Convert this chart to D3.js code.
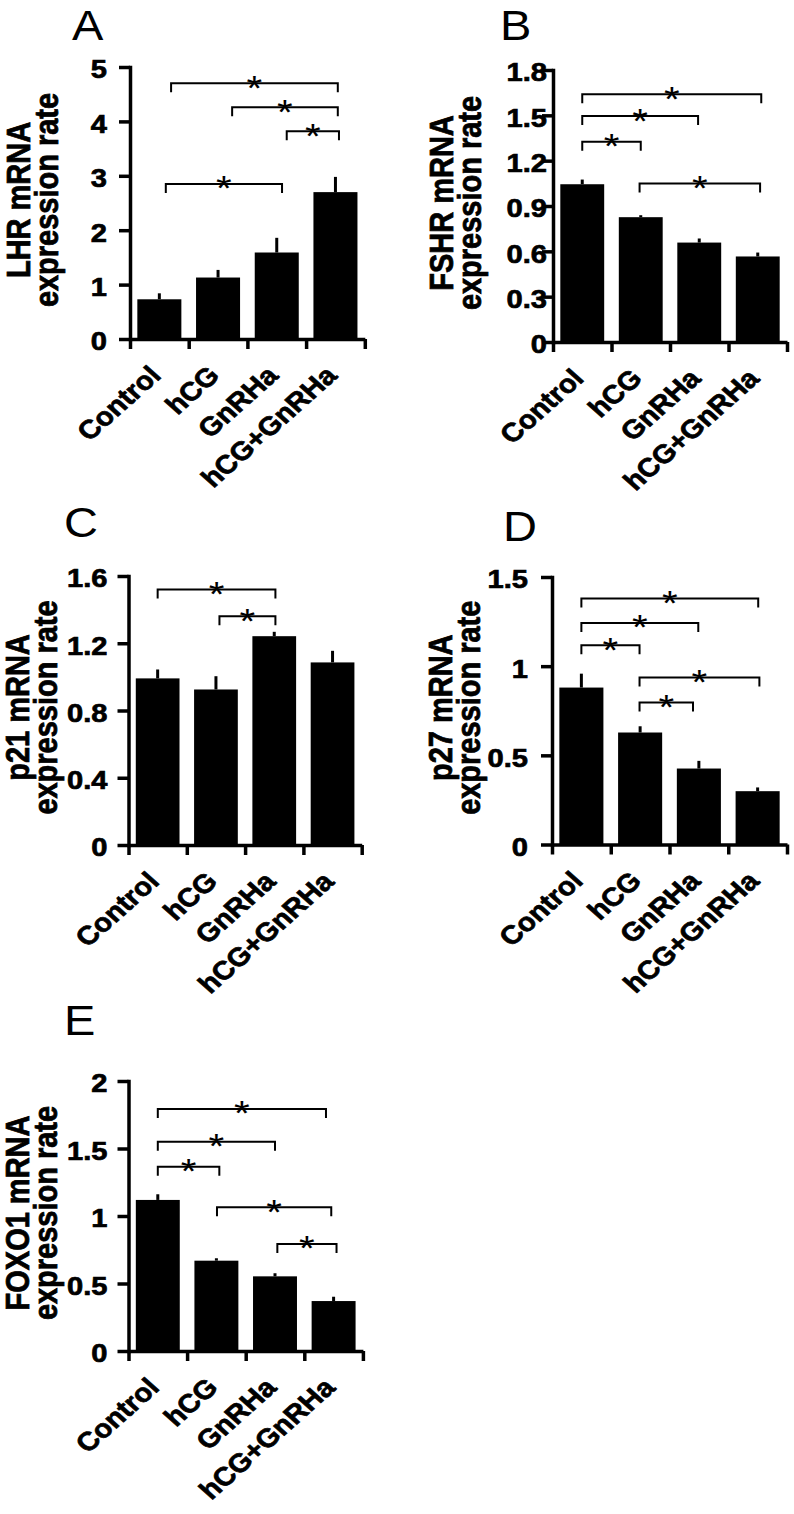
<!DOCTYPE html>
<html><head><meta charset="utf-8">
<script src="https://cdn.jsdelivr.net/npm/d3@7"></script>
<style>
body{margin:0;background:#fff}
svg{display:block}
text{font-family:"Liberation Sans",Arial,Helvetica,sans-serif;fill:#000}
</style></head><body>
<svg id="chart" width="794" height="1514"></svg>
<script>
// ---------- DATA ----------
const categories = ["Control", "hCG", "GnRHa", "hCG+GnRHa"];

const lhrMean   = [0.73, 1.13, 1.59, 2.70];
const lhrErr    = [0.11, 0.14, 0.27, 0.28];
const lhrTicks  = [0, 1, 2, 3, 4, 5];
// brackets: [from category index, to category index, height in data units]
const lhrSig    = [[0.20, 3.04, 4.70], [1.24, 3.04, 4.26], [2.17, 3.06, 3.82], [0.11, 2.09, 2.85]];

const fshrMean  = [1.044, 0.826, 0.658, 0.566];
const fshrErr   = [0.031, 0.013, 0.027, 0.026];
const fshrTicks = [0, 0.3, 0.6, 0.9, 1.2, 1.5, 1.8];
const fshrSig   = [[0.00, 3.06, 1.640], [0.00, 1.98, 1.495], [0.00, 1.00, 1.325], [0.98, 3.04, 1.049]];

const p21Mean   = [0.991, 0.925, 1.242, 1.086];
const p21Err    = [0.053, 0.079, 0.026, 0.069];
const p21Ticks  = [0, 0.4, 0.8, 1.2, 1.6];
const p21Sig    = [[0.00, 2.02, 1.520], [1.06, 2.02, 1.361]];

const p27Mean   = [0.880, 0.628, 0.426, 0.299];
const p27Err    = [0.078, 0.035, 0.043, 0.021];
const p27Ticks  = [0, 0.5, 1, 1.5];
const p27Sig    = [[0.00, 3.01, 1.379], [0.00, 1.99, 1.242], [0.00, 0.99, 1.117], [0.99, 3.03, 0.936], [0.99, 1.90, 0.796]];

const foxo1Mean  = [1.119, 0.669, 0.553, 0.370];
const foxo1Err   = [0.042, 0.018, 0.023, 0.032];
const foxo1Ticks = [0, 0.5, 1, 1.5, 2];
const foxo1Sig   = [[0.00, 2.87, 1.793], [0.00, 2.00, 1.550], [0.00, 1.05, 1.365], [1.01, 2.96, 1.064], [2.04, 3.05, 0.793]];

const panelLetters = ["A", "B", "C", "D", "E"];
const panelTitles = [["LHR mRNA", "expression rate"], ["FSHR mRNA", "expression rate"],
                     ["p21 mRNA", "expression rate"], ["p27 mRNA", "expression rate"],
                     ["FOXO1 mRNA", "expression rate"]];

// ---------- LAYOUT ----------
const SX = 1.12; // horizontal stretch of the original figure's glyphs
const layout = [
  {axisX: 130,   y0: 339,   yTop: 67,   step: 58.7,  tickGap: 23, letter: [72, 40]},
  {axisX: 553,   y0: 342,   yTop: 70,   step: 58.5,  tickGap: 6,  letter: [500, 40]},
  {axisX: 128.5, y0: 845,   yTop: 576,  step: 58.3,  tickGap: 21, letter: [64, 537]},
  {axisX: 552,   y0: 844.5, yTop: 577,  step: 58.75, tickGap: 24, letter: [503, 541]},
  {axisX: 128.5, y0: 1351,  yTop: 1081, step: 58.6,  tickGap: 21, letter: [64, 1035]}
];
const series = [
  {mean: lhrMean, err: lhrErr, ticks: lhrTicks, sig: lhrSig},
  {mean: fshrMean, err: fshrErr, ticks: fshrTicks, sig: fshrSig},
  {mean: p21Mean, err: p21Err, ticks: p21Ticks, sig: p21Sig},
  {mean: p27Mean, err: p27Err, ticks: p27Ticks, sig: p27Sig},
  {mean: foxo1Mean, err: foxo1Err, ticks: foxo1Ticks, sig: foxo1Sig}
];

const svg = d3.select("#chart");
const HEAVY = 0.7; // extra stroke to mimic the heavy upscaled bold glyphs

series.forEach((s, k) => {
  const L = layout[k];
  const g = svg.append("g");
  const xEnd = L.axisX + 4 * L.step;
  const y = d3.scaleLinear().domain([0, d3.max(s.ticks)]).range([L.y0, L.yTop]);
  const xBand = d3.scaleBand().domain(categories).range([L.axisX, xEnd]).paddingInner(0.25).paddingOuter(0.125);
  const xPos = d3.scaleLinear().domain([-0.5, 3.5]).range([L.axisX, xEnd]);

  // bars
  g.selectAll("rect.bar").data(s.mean).join("rect").attr("class", "bar")
    .attr("x", (d, i) => xBand(categories[i]))
    .attr("y", d => y(d))
    .attr("width", xBand.bandwidth())
    .attr("height", d => L.y0 - y(d))
    .attr("fill", "#000");

  // error bars (upper only)
  g.selectAll("line.err").data(s.mean).join("line").attr("class", "err")
    .attr("x1", (d, i) => xPos(i)).attr("x2", (d, i) => xPos(i))
    .attr("y1", d => y(d)).attr("y2", (d, i) => y(d + s.err[i]))
    .attr("stroke", "#000").attr("stroke-width", 3);

  // x axis
  const gx = g.append("g").attr("transform", `translate(0,${L.y0})`)
    .call(d3.axisBottom(xPos).tickValues([-0.5, 0.5, 1.5, 2.5, 3.5]).tickFormat("").tickSize(10).tickSizeOuter(0));
  gx.select(".domain").attr("stroke", "#000").attr("stroke-width", 3.5);
  gx.selectAll(".tick line").attr("stroke", "#000").attr("stroke-width", 3.5);

  // y axis
  const gy = g.append("g").attr("transform", `translate(${L.axisX},0)`)
    .call(d3.axisLeft(y).tickValues(s.ticks).tickFormat(d => String(d)).tickSize(11).tickSizeOuter(0));
  gy.select(".domain").attr("stroke", "#000").attr("stroke-width", 3.5).attr("stroke-linecap", "square");
  gy.selectAll(".tick line").attr("stroke", "#000").attr("stroke-width", 3.5);
  gy.selectAll(".tick text")
    .attr("x", null).attr("dy", "0.42em")
    .attr("transform", `translate(${-L.tickGap},0) scale(${SX},1)`)
    .attr("fill", "#000").attr("stroke", "#000").attr("stroke-width", HEAVY)
    .style("font-size", "26px").style("font-weight", "bold")
    .style("font-family", '"Liberation Sans",Arial,sans-serif');

  // category labels
  g.selectAll("text.cat").data(categories).join("text").attr("class", "cat")
    .attr("transform", (d, i) => `translate(${xPos(i) + 3},${L.y0 + 38}) scale(${SX},1) rotate(-45)`)
    .attr("text-anchor", "end")
    .attr("stroke", "#000").attr("stroke-width", HEAVY)
    .style("font-size", "26px").style("font-weight", "bold")
    .text(d => d);

  // y title
  const cy = (L.y0 + L.yTop) / 2 - 3;
  [L.axisX - 100, L.axisX - 72].forEach((bx, j) => {
    g.append("text")
      .attr("transform", `translate(${bx},${cy}) scale(${SX},1) rotate(-90)`)
      .attr("text-anchor", "middle")
      .attr("stroke", "#000").attr("stroke-width", HEAVY)
      .style("font-size", "29px").style("font-weight", "bold")
      .text(panelTitles[k][j]);
  });

  // significance brackets
  const drop = 9, afs = 36;
  s.sig.forEach(([a, b, v]) => {
    const yy = y(v);
    g.append("path")
      .attr("d", `M${xPos(a)},${yy + drop}V${yy}H${xPos(b)}V${yy + drop}`)
      .attr("fill", "none").attr("stroke", "#000").attr("stroke-width", 2);
    g.append("text")
      .attr("transform", `translate(${(xPos(a) + xPos(b)) / 2},${yy + 0.43 * afs + 1}) scale(${SX},1)`)
      .attr("text-anchor", "middle")
      .style("font-size", afs + "px")
      .text("*");
  });

  // panel letter
  svg.append("text")
    .attr("transform", `translate(${L.letter[0]},${L.letter[1]}) scale(${SX},1)`)
    .style("font-size", "42px")
    .text(panelLetters[k]);
});
</script>
</body></html>
